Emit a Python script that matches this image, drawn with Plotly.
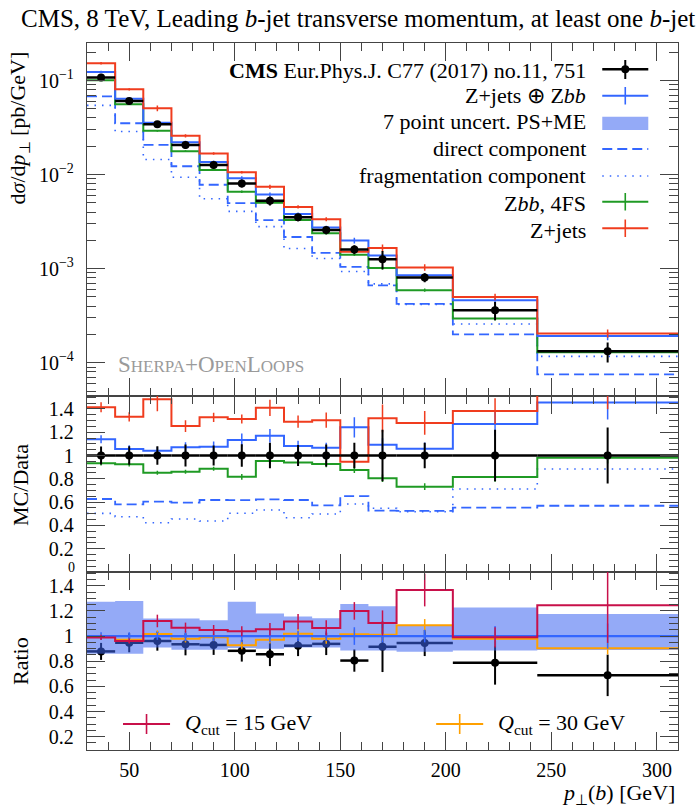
import plotly.graph_objects as go
from plotly.subplots import make_subplots

# ---------------- data ----------------
bin_edges = [30, 43.33, 56.67, 70, 83.33, 96.67, 110, 123.33, 136.67, 150,
             163.33, 176.67, 203.33, 243.33, 310]

data_xs = [0.108, 0.0605, 0.0342, 0.0206, 0.01262, 0.00805, 0.00526, 0.00351,
           0.00257, 0.00160, 0.00126, 0.000805, 0.000362, 0.000132]
data_rel_err = [0.077, 0.08, 0.08, 0.094, 0.085, 0.097, 0.11, 0.09, 0.095,
                0.11, 0.22, 0.11, 0.22, 0.24]

zjets = [0.1527, 0.0806, 0.0507, 0.0258, 0.01676, 0.01057, 0.00741, 0.00453,
         0.00335, 0.001515, 0.001662, 0.001030, 0.000500, 0.000205]
zjets_rel_err = [0.03, 0.03, 0.07, 0.04, 0.03, 0.03, 0.05, 0.04, 0.05, 0.05,
                 0.09, 0.08, 0.08, 0.1]

combined = [0.1230, 0.0639, 0.0356, 0.02204, 0.01358, 0.00912, 0.00615, 0.00380,
            0.00274, 0.001987, 0.001377, 0.000852, 0.000460, 0.000192]
combined_rel_err = [0.03, 0.03, 0.03, 0.04, 0.04, 0.05, 0.05, 0.04, 0.04, 0.07,
                    0.05, 0.05, 0.08, 0.1]

zbb_4fs = [0.1008, 0.0559, 0.02917, 0.01774, 0.01119, 0.00658, 0.00501, 0.00330,
           0.00238, 0.001402, 0.001013, 0.000590, 0.000295, 0.0001295]
zbb_rel_err = [0.02, 0.02, 0.02, 0.02, 0.02, 0.03, 0.03, 0.03, 0.03, 0.03,
               0.04, 0.04, 0.05, 0.05]

direct_comp = [0.0677, 0.03515, 0.02066, 0.01226, 0.00780, 0.00497, 0.00328,
               0.00217, 0.00147, 0.001043, 0.000663, 0.000423, 0.000200, 0.0000751]
frag_comp = [0.0544, 0.02874, 0.01447, 0.00937, 0.00553, 0.00406, 0.00280,
             0.001636, 0.00128, 0.000934, 0.000689, 0.000417, 0.000258, 0.0001167]

qcut15_ratio = [0.988, 0.96, 1.12, 1.067, 1.048, 1.039, 1.054, 1.115, 1.065,
                1.2, 1.104, 1.366, 0.99, 1.246]
qcut15_err = [0.02, 0.02, 0.05, 0.04, 0.04, 0.04, 0.05, 0.06, 0.06, 0.07,
              0.1, 0.13, 0.08, 0.3]
qcut30_ratio = [0.998, 0.971, 1.016, 0.979, 0.99, 0.926, 0.97, 1.019, 0.979,
                1.014, 1.011, 1.085, 0.979, 0.904]
qcut30_err = [0.02, 0.02, 0.03, 0.03, 0.03, 0.03, 0.03, 0.04, 0.04, 0.04,
              0.05, 0.05, 0.06, 0.05]

band_up = [1.272, 1.278, 1.139, 1.139, 1.126, 1.272, 1.179, 1.155, 1.142,
           1.255, 1.237, 1.085, 1.227, 1.176]
band_dn = [0.86, 0.86, 0.91, 0.892, 0.892, 0.905, 0.9, 0.91, 0.91, 0.886,
           0.886, 0.875, 0.886, 0.89]

# ---------------- styling ----------------
FONT = "Liberation Serif"
C_BLUE = "#3366ff"
C_RED = "#f03c1e"
C_GREEN = "#1f9a24"
C_CRIMSON = "#c8104a"
C_ORANGE = "#ffa000"
C_BAND = "rgba(60,100,240,0.55)"
AX = "#444444"

L, R, T, B = 87, 677.7, 43, 750


def px(x):
    return (x - L) / (R - L)


def py(y):
    return (B - y) / (B - T)


centers = [(a + b) / 2 for a, b in zip(bin_edges[:-1], bin_edges[1:])]
halfw = [(b - a) / 2 for a, b in zip(bin_edges[:-1], bin_edges[1:])]

fig = make_subplots(rows=3, cols=1, shared_xaxes=True, vertical_spacing=0,
                    row_heights=[0.4989, 0.2494, 0.2517])


def step(vals, color, row, width=2.0, dash=None):
    fig.add_trace(go.Scatter(
        x=bin_edges, y=list(vals) + [vals[-1]], mode="lines",
        line=dict(color=color, width=width, dash=dash, shape="hv"),
        hoverinfo="skip", showlegend=False), row=row, col=1)


def errs(vals, errabs, color, row, thickness=1.5):
    fig.add_trace(go.Scatter(
        x=centers, y=vals, mode="markers",
        marker=dict(size=1, color="rgba(0,0,0,0)"),
        error_y=dict(type="data", array=errabs, color=color,
                     thickness=thickness, width=0),
        hoverinfo="skip", showlegend=False), row=row, col=1)


def data_pts(vals, errabs, row):
    fig.add_trace(go.Scatter(
        x=centers, y=vals, mode="markers",
        marker=dict(size=8, color="black"),
        error_x=dict(type="data", array=halfw, color="black", thickness=2.5, width=0),
        error_y=dict(type="data", array=errabs, color="black", thickness=2, width=0),
        hoverinfo="skip", showlegend=False), row=row, col=1)


DASH = "10px,5px"
DOT = "1.5px,6px"

# ---- top panel ----
step(frag_comp, C_BLUE, 1, 1.6, DOT)
step(direct_comp, C_BLUE, 1, 1.8, DASH)
step(zbb_4fs, C_GREEN, 1)
errs(zbb_4fs, [v * e for v, e in zip(zbb_4fs, zbb_rel_err)], C_GREEN, 1)
step(combined, C_BLUE, 1)
errs(combined, [v * e for v, e in zip(combined, combined_rel_err)], C_BLUE, 1)
step(zjets, C_RED, 1)
errs(zjets, [v * e for v, e in zip(zjets, zjets_rel_err)], C_RED, 1)
data_pts(data_xs, [v * e for v, e in zip(data_xs, data_rel_err)], 1)

# ---- middle panel: MC / Data ----
def over_data(vals):
    return [v / d for v, d in zip(vals, data_xs)]


r_frag = over_data(frag_comp)
r_dir = over_data(direct_comp)
r_zbb = over_data(zbb_4fs)
r_comb = over_data(combined)
r_zj = over_data(zjets)
step(r_frag, C_BLUE, 2, 1.6, DOT)
step(r_dir, C_BLUE, 2, 1.8, DASH)
step(r_zbb, C_GREEN, 2)
errs(r_zbb, [v * e for v, e in zip(r_zbb, zbb_rel_err)], C_GREEN, 2)
step(r_comb, C_BLUE, 2)
errs(r_comb, [v * e for v, e in zip(r_comb, combined_rel_err)], C_BLUE, 2)
step(r_zj, C_RED, 2)
errs(r_zj, [v * e for v, e in zip(r_zj, zjets_rel_err)], C_RED, 2)
data_pts([1.0] * len(centers), data_rel_err, 2)

# ---- bottom panel: ratio to Z+jets (+) Zbb ----
d_ratio = [d / c for d, c in zip(data_xs, combined)]
data_pts(d_ratio, [r * e for r, e in zip(d_ratio, data_rel_err)], 3)
fig.add_trace(go.Scatter(x=bin_edges, y=band_dn + [band_dn[-1]], mode="lines",
                         line=dict(width=0, shape="hv"), hoverinfo="skip",
                         showlegend=False), row=3, col=1)
fig.add_trace(go.Scatter(x=bin_edges, y=band_up + [band_up[-1]], mode="lines",
                         line=dict(width=0, shape="hv"), fill="tonexty",
                         fillcolor=C_BAND, hoverinfo="skip",
                         showlegend=False), row=3, col=1)
step(qcut30_ratio, C_ORANGE, 3)
errs(qcut30_ratio, qcut30_err, C_ORANGE, 3)
ones = [1.0] * len(centers)
step(ones, C_BLUE, 3, 2.2)
errs(ones, combined_rel_err, C_BLUE, 3)
step(qcut15_ratio, C_CRIMSON, 3)
errs(qcut15_ratio, qcut15_err, C_CRIMSON, 3)

# ---------------- axes ----------------
tickfont = dict(family=FONT, size=20, color="black")
common_x = dict(range=[30, 310], ticks="inside", ticklen=18, tickwidth=1,
                tickcolor=AX, tick0=0, dtick=50, mirror="allticks",
                showline=True, linecolor=AX, linewidth=1.3, showgrid=False,
                zeroline=False,
                minor=dict(ticks="inside", ticklen=8, tickcolor=AX, dtick=10,
                           tick0=0, showgrid=False))
fig.update_xaxes(**common_x)
fig.update_xaxes(showticklabels=False, row=1, col=1)
fig.update_xaxes(showticklabels=False, row=2, col=1)
fig.update_xaxes(showticklabels=True, tickfont=tickfont, ticklabelstandoff=2,
                 row=3, col=1)

common_y = dict(ticks="inside", ticklen=18, tickwidth=1, tickcolor=AX,
                mirror="allticks", showline=True, linecolor=AX, linewidth=1.3,
                showgrid=False, zeroline=False, tickfont=tickfont,
                ticklabelstandoff=8)
log_minor = [m * 10.0 ** e for e in range(-5, 0) for m in range(2, 10)]
fig.update_yaxes(type="log", range=[-4.351, -0.601],
                 tickmode="array", tickvals=[1e-4, 1e-3, 1e-2, 1e-1],
                 ticktext=["10<sup>−4</sup>", "10<sup>−3</sup>",
                           "10<sup>−2</sup>", "10<sup>−1</sup>"],
                 minor=dict(ticks="inside", ticklen=9, tickcolor=AX,
                            tickmode="array", tickvals=log_minor, showgrid=False),
                 row=1, col=1, **common_y)
ratio_ticks = [0.2, 0.4, 0.6, 0.8, 1.0, 1.2, 1.4]
ratio_text = ["0.2", "0.4", "0.6", "0.8", "1", "1.2", "1.4"]
fig.update_yaxes(range=[0, 1.513], tickmode="array", tickvals=ratio_ticks,
                 ticktext=ratio_text,
                 minor=dict(ticks="inside", ticklen=9, tickcolor=AX, dtick=0.05,
                            tick0=0, showgrid=False),
                 row=2, col=1, **common_y)
fig.update_yaxes(range=[0.094, 1.509], tickmode="array", tickvals=ratio_ticks,
                 ticktext=ratio_text,
                 minor=dict(ticks="inside", ticklen=9, tickcolor=AX, dtick=0.05,
                            tick0=0, showgrid=False),
                 row=3, col=1, **common_y)

# ---------------- text & legends ----------------
ann = []
shapes = []


def text(t, x, y, size=22, xanchor="center", yanchor="middle", angle=0, color="black"):
    ann.append(dict(text=t, x=px(x), y=py(y), xref="paper", yref="paper",
                    xanchor=xanchor, yanchor=yanchor, showarrow=False,
                    textangle=angle, font=dict(family=FONT, size=size, color=color)))


def hline(x0, x1, y, color, width=2.0, dash=None):
    shapes.append(dict(type="line", xref="paper", yref="paper", x0=px(x0), x1=px(x1),
                       y0=py(y), y1=py(y), line=dict(color=color, width=width, dash=dash)))


def vline(x, y0, y1, color, width=1.6):
    shapes.append(dict(type="line", xref="paper", yref="paper", x0=px(x), x1=px(x),
                       y0=py(y0), y1=py(y1), line=dict(color=color, width=width)))


# "0" label of the MC/Data axis (bottom edge), small like the reference's old-style zero
text("0", 77, 567, size=14, xanchor="right")

text("CMS, 8 TeV, Leading <i>b</i>-jet transverse momentum, at least one <i>b</i>-jet",
     697, 18, size=25, xanchor="right")
text("d<i>σ</i>/d<i>p</i><sub>⊥</sub> [pb/GeV]", 20, 127.5, angle=-90)
text("MC/Data", 20, 485, angle=-90)
text("Ratio", 20, 661, angle=-90)
text("<i>p</i><sub>⊥</sub>(<i>b</i>) [GeV]", 677, 794, xanchor="right")

legend_rows = [("<b>CMS</b> Eur.Phys.J. C77 (2017) no.11, 751", 70.7),
               ("Z+jets ⊕ Z<i>bb</i>", 95.7),
               ("7 point uncert. PS+ME", 121.7),
               ("direct component", 149),
               ("fragmentation component", 176),
               ("Z<i>bb</i>, 4FS", 203.3),
               ("Z+jets", 230)]
for t, y in legend_rows:
    text(t, 588, y, xanchor="right")

sx0, sx1, sxc = 602, 648, 625
hline(sx0, sx1, 69.3, "black", 2.5)
vline(sxc, 60, 79, "black", 2)
shapes.append(dict(type="circle", xref="paper", yref="paper",
                   x0=px(sxc - 4), x1=px(sxc + 4), y0=py(73.3), y1=py(65.3),
                   fillcolor="black", line=dict(color="black", width=0)))
hline(sx0, sx1, 95.7, C_BLUE)
vline(sxc, 87, 104.5, C_BLUE)
shapes.append(dict(type="rect", xref="paper", yref="paper", x0=px(sx0), x1=px(sx1),
                   y0=py(130), y1=py(116.7), fillcolor=C_BAND, line=dict(width=0)))
hline(sx0, sx1, 149, C_BLUE, 1.8, DASH)
hline(sx0, sx1, 176, C_BLUE, 1.6, DOT)
hline(sx0, sx1, 201.7, C_GREEN)
vline(sxc, 193, 210.5, C_GREEN)
hline(sx0, sx1, 228.3, C_RED)
vline(sxc, 219.5, 237, C_RED)

sc = 17
text("S<span style='font-size:%dpx'>HERPA</span>+O<span style='font-size:%dpx'>PEN</span>"
     "L<span style='font-size:%dpx'>OOPS</span>" % (sc, sc, sc),
     211, 364, size=23, color="#9a9a9a")

# bottom legend
hline(123, 170, 724, C_CRIMSON)
vline(146.5, 714, 734, C_CRIMSON)
text("<i>Q</i><sub>cut</sub> = 15 GeV", 183, 724, xanchor="left")
hline(436, 483, 724, C_ORANGE)
vline(459.5, 714, 734, C_ORANGE)
text("<i>Q</i><sub>cut</sub> = 30 GeV", 496, 724, xanchor="left")

fig.update_layout(width=700, height=810,
                  margin=dict(l=L, r=700 - R, t=T, b=810 - B, pad=0),
                  paper_bgcolor="white", plot_bgcolor="white",
                  showlegend=False, annotations=ann, shapes=shapes,
                  font=dict(family=FONT, size=21, color="black"))

fig.write_html("out.html")
